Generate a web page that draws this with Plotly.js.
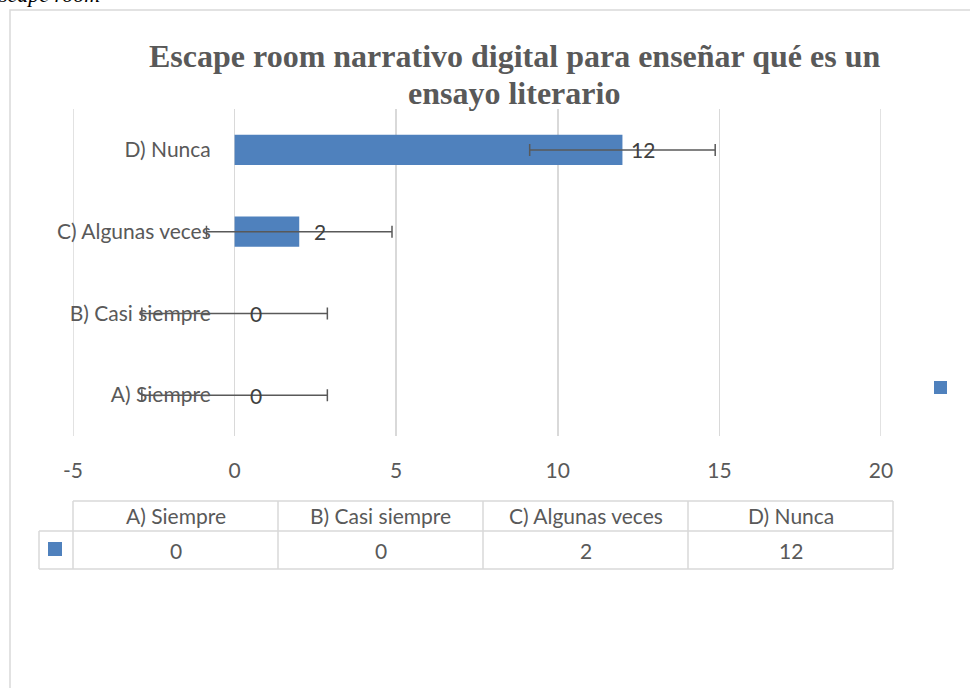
<!DOCTYPE html>
<html>
<head>
<meta charset="utf-8">
<script src="https://cdn.plot.ly/plotly-3.0.1.min.js"></script>
<style>html,body{margin:0;padding:0;background:#fff;}#chart{width:970px;height:688px;}</style>
</head>
<body>
<div id="chart"></div>
<script>
// ---- data ----
const categories = ['A) Siempre', 'B) Casi siempre', 'C) Algunas veces', 'D) Nunca'];
const values = [0, 0, 2, 12];
const errorValues = [2.87, 2.87, 2.87, 2.87];
const xTickVals = [-5, 0, 5, 10, 15, 20];
const xTickText = ['-5', '0', '5', '10', '15', '20'];
const titleLines = ['Escape room narrativo digital para enseñar qué es un', 'ensayo literario'];

// ---- layout helpers (pixel -> paper) ----
const W = 970, H = 688;
const M = {l: 73, r: 89, t: 109, b: 252};
const PW = W - M.l - M.r, PH = H - M.t - M.b;
const px = v => (v - M.l) / PW;
const py = v => 1 - (v - M.t) / PH;

const FONT = 'Lato, "Liberation Sans", sans-serif';
const GRID = '#D9D9D9';
const BLUE = '#4F81BD';
const TXT = '#595959';

const trace = {
  type: 'bar',
  orientation: 'h',
  x: values,
  y: categories,
  width: 0.37,
  marker: {color: BLUE},
  error_x: {type: 'data', array: errorValues, visible: true, color: TXT, thickness: 1.5, width: 6},
  hoverinfo: 'none',
  showlegend: false
};

const shapes = [];
const annotations = [];

// outer chart frame
shapes.push({type: 'rect', xref: 'paper', yref: 'paper', x0: px(10), x1: px(985), y0: py(10), y1: py(700),
  line: {color: GRID, width: 1.5}, fillcolor: 'rgba(0,0,0,0)', layer: 'below'});

// edge gridlines (Plotly hides gridlines lying on the plot edges)
[xTickVals[0], xTickVals[xTickVals.length - 1]].forEach(v => {
  shapes.push({type: 'line', xref: 'x', yref: 'paper', x0: v, x1: v, y0: 0, y1: 1,
    line: {color: GRID, width: 1.5}, layer: 'below'});
});

// title
titleLines.forEach((t, i) => {
  annotations.push({xref: 'paper', yref: 'paper', x: px(514), y: py(56 + i * 37), xanchor: 'center', yanchor: 'middle',
    text: '<b>' + t + '</b>', showarrow: false,
    font: {family: '"Liberation Serif", "Times New Roman", serif', size: 32, color: TXT}});
});

// cut-off caption text at top-left
annotations.push({xref: 'paper', yref: 'paper', x: px(-3), y: py(-5), xanchor: 'left', yanchor: 'middle',
  text: '<i>scape room</i>', showarrow: false,
  font: {family: '"Liberation Serif", serif', size: 22, color: '#000'}});

// data labels
values.forEach((v, i) => {
  annotations.push({xref: 'x', yref: 'y', x: v, y: categories[i], xanchor: 'center', yanchor: 'middle',
    xshift: 21, text: String(v), showarrow: false, font: {family: FONT, size: 21, color: '#404040'}});
});

// legend key on the right
shapes.push({type: 'rect', xref: 'paper', yref: 'paper', x0: px(934), x1: px(947), y0: py(381), y1: py(394),
  line: {width: 0}, fillcolor: BLUE});

// data table
const colL = 73, colW = 205, yTop = 501, yMid = 531, yBot = 569, keyL = 39;
const colR = colL + colW * categories.length;
const line = (x0, y0, x1, y1) => shapes.push({type: 'line', xref: 'paper', yref: 'paper',
  x0: px(x0), x1: px(x1), y0: py(y0), y1: py(y1), line: {color: GRID, width: 1.5}});
line(colL, yTop, colR, yTop);
line(keyL, yMid, colR, yMid);
line(keyL, yBot, colR, yBot);
line(keyL, yMid, keyL, yBot);
for (let i = 0; i <= categories.length; i++) line(colL + i * colW, yTop, colL + i * colW, yBot);
shapes.push({type: 'rect', xref: 'paper', yref: 'paper', x0: px(48), x1: px(62), y0: py(542), y1: py(556),
  line: {width: 0}, fillcolor: BLUE});
categories.forEach((c, i) => {
  const cx = colL + colW * (i + 0.5);
  annotations.push({xref: 'paper', yref: 'paper', x: px(cx), y: py(515), xanchor: 'center', yanchor: 'middle',
    text: c, showarrow: false, font: {family: FONT, size: 21, color: TXT}});
  annotations.push({xref: 'paper', yref: 'paper', x: px(cx), y: py(550), xanchor: 'center', yanchor: 'middle',
    text: String(values[i]), showarrow: false, font: {family: FONT, size: 21, color: TXT}});
});

const layout = {
  width: W, height: H,
  margin: M,
  paper_bgcolor: '#fff', plot_bgcolor: '#fff',
  showlegend: false,
  xaxis: {
    range: [-5, 20], tickvals: xTickVals, ticktext: xTickText, showgrid: true, gridcolor: GRID, gridwidth: 1.5,
    zeroline: false, showline: false, ticks: 'outside', ticklen: 16, tickcolor: 'rgba(0,0,0,0)',
    tickfont: {family: FONT, size: 21, color: TXT}, automargin: false, fixedrange: true
  },
  yaxis: {
    type: 'category', categoryorder: 'array', categoryarray: categories, range: [-0.5, 3.5],
    anchor: 'free', position: px(235), showgrid: false, zeroline: false, showline: false,
    ticks: 'outside', ticklen: 20, tickcolor: 'rgba(0,0,0,0)',
    tickfont: {family: FONT, size: 21, color: TXT}, automargin: false, fixedrange: true
  },
  shapes: shapes,
  annotations: annotations
};

Plotly.newPlot('chart', [trace], layout, {displayModeBar: false, staticPlot: true});
</script>
</body>
</html>
